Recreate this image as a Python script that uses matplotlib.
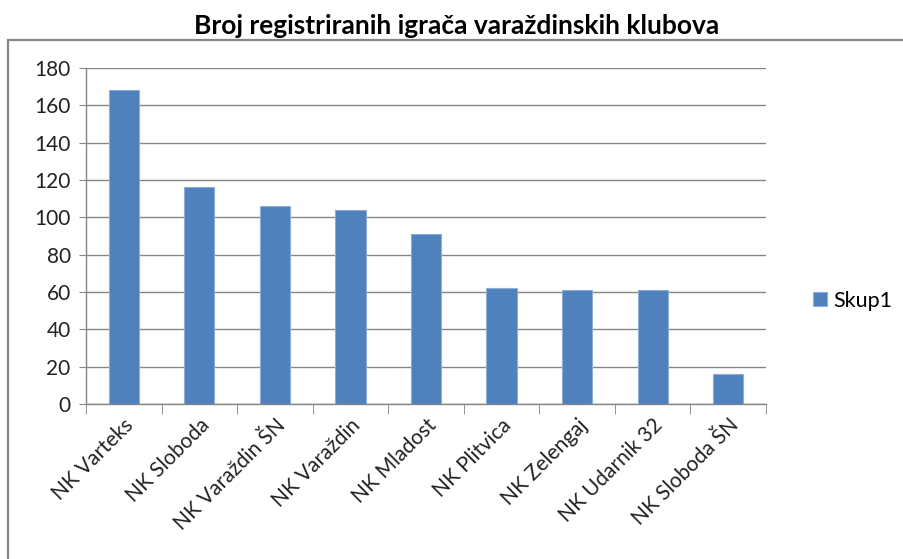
import matplotlib
matplotlib.use("Agg")
import matplotlib.pyplot as plt
from matplotlib.patches import Rectangle
import numpy as np

# Data
clubs = ["NK Varteks", "NK Sloboda", "NK Varaždin ŠN", "NK Varaždin", "NK Mladost",
         "NK Plitvica", "NK Zelengaj", "NK Udarnik 32", "NK Sloboda ŠN"]
players = [168, 116, 106, 104, 91, 62, 61, 61, 16]
y_ticks = [0, 20, 40, 60, 80, 100, 120, 140, 160, 180]
series_name = "Skup1"
title = "Broj registriranih igrača varaždinskih klubova"

plt.rcParams['font.family'] = ['Lato', 'DejaVu Sans']

grey = "#868686"
blue = "#4F81BD"

fig = plt.figure(figsize=(9.04, 5.59), dpi=100)
ax = fig.add_axes([0.0951, 0.2773, 0.7522, 0.6011])

# outer chart border (cut off at right and bottom like the screenshot)
fig.patches.append(Rectangle((0.009, -0.05), 1.2, 0.978, transform=fig.transFigure,
                             fill=False, edgecolor=grey, linewidth=1.6))

x = np.arange(len(clubs))
ax.bar(x, players, width=0.4, color=blue, edgecolor="#8EADD6", linewidth=0.8,
       label=series_name, zorder=3)

ax.set_xlim(-0.5, len(clubs) - 0.5)
ax.set_ylim(0, 180)
ax.set_yticks(y_ticks)
ax.yaxis.grid(True, color=grey, linewidth=1.0, zorder=0)
ax.tick_params(axis='y', length=5, color=grey, labelsize=15, pad=6, labelcolor="#222222")

ax.set_xticks(x)
ax.set_xticklabels(clubs, rotation=45, ha='right', rotation_mode='anchor',
                   fontsize=15, color="#222222")
ax.tick_params(axis='x', which='major', length=0, pad=8)
ax.set_xticks(np.arange(-0.5, len(clubs)), minor=True)
ax.tick_params(axis='x', which='minor', length=7, color=grey)

for side in ['top', 'right']:
    ax.spines[side].set_visible(False)
for side in ['left', 'bottom']:
    ax.spines[side].set_color(grey)
    ax.spines[side].set_linewidth(1.0)

fig.text(0.505, 0.953, title, ha='center', va='center', fontsize=19, fontweight='bold')

ax.legend(loc='center left', bbox_to_anchor=(0.89, 0.462), bbox_transform=fig.transFigure,
          frameon=False, fontsize=15.5, handlelength=0.65, handleheight=0.65,
          handletextpad=0.3, borderaxespad=0)

fig.savefig("out.png", dpi=100)
